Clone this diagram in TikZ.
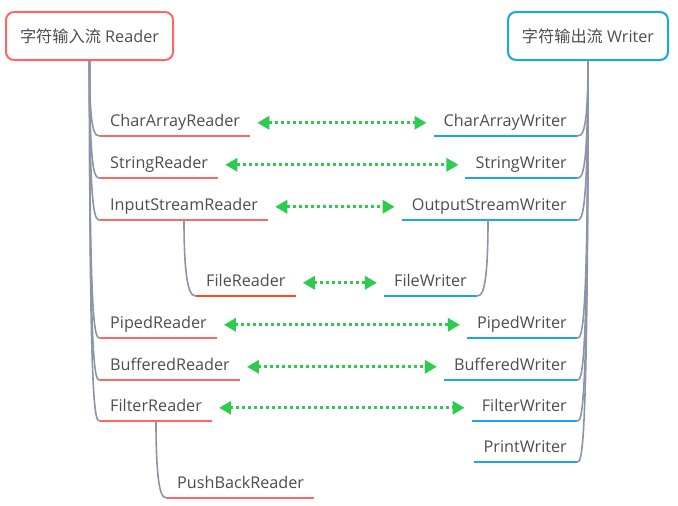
\documentclass[tikz,border=0pt]{standalone}
\usepackage{fontspec}
\setmainfont{Open Sans}
\newfontfamily\cjk{Noto Sans CJK SC}
\usetikzlibrary{arrows.meta}
\definecolor{readerred}{HTML}{FF6666}
\definecolor{fileorange}{HTML}{FF4D1A}
\definecolor{writerblue}{HTML}{1BA5EA}
\definecolor{linkgreen}{HTML}{2DCC4F}
\definecolor{branchgray}{HTML}{8A95A8}
\definecolor{textgray}{HTML}{4D4D4D}
\begin{document}
\begin{tikzpicture}[x=1pt,y=-1pt,font=\fontsize{16.2}{19}\selectfont,text=textgray,
    root/.style={draw=#1,line width=2pt,rounded corners=8pt,minimum height=48pt},
    leaf/.style={inner xsep=10pt,inner ysep=5pt,text height=12pt,text depth=4pt,
      append after command={(\tikzlastnode.south west) edge[draw=#1,line width=2pt] (\tikzlastnode.south east)}},
    branch/.style={draw=branchgray,line width=1.6pt},
    link/.style={draw=linkgreen,line width=3pt,dash pattern=on 3pt off 3pt,
      {Triangle[length=12pt,width=13pt]}-{Triangle[length=12pt,width=13pt]},
      shorten <=7pt,shorten >=7pt}]
  \useasboundingbox (0,0) rectangle (678,506);
  % the two roots
  \node[root=readerred,minimum width=167pt] (R) at (89.5,36) {{\cjk 字符输入流} Reader};
  \node[root=writerblue,minimum width=160pt] (W) at (588,36) {{\cjk 字符输出流} Writer};
  % readers
  \node[leaf=readerred,anchor=south west] (r1) at (100,136) {CharArrayReader};
  \node[leaf=readerred,anchor=south west] (r2) at (100,178) {StringReader};
  \node[leaf=readerred,anchor=south west] (r3) at (100,220) {InputStreamReader};
  \node[leaf=fileorange,anchor=south west] (r4) at (196,296) {FileReader};
  \node[leaf=readerred,anchor=south west] (r5) at (100,338) {PipedReader};
  \node[leaf=readerred,anchor=south west] (r6) at (100,380) {BufferedReader};
  \node[leaf=readerred,anchor=south west] (r7) at (100,421) {FilterReader};
  \node[leaf=readerred,anchor=south west] (r8) at (167,498) {PushBackReader};
  % writers
  \node[leaf=writerblue,anchor=south east] (w1) at (577,136) {CharArrayWriter};
  \node[leaf=writerblue,anchor=south east] (w2) at (577,178) {StringWriter};
  \node[leaf=writerblue,anchor=south east] (w3) at (577,220) {OutputStreamWriter};
  \node[leaf=writerblue,anchor=south east] (w4) at (477,296) {FileWriter};
  \node[leaf=writerblue,anchor=south east] (w5) at (577,338) {PipedWriter};
  \node[leaf=writerblue,anchor=south east] (w6) at (577,380) {BufferedWriter};
  \node[leaf=writerblue,anchor=south east] (w7) at (577,421) {FilterWriter};
  \node[leaf=writerblue,anchor=south east] (w8) at (577,462) {PrintWriter};
  % branches
  \foreach \n in {r1,r2,r3,r5,r6,r7}
    \draw[branch] (R.south) .. controls (R.south |- \n.south west) and ([xshift=-5pt]\n.south west) .. (\n.south west);
  \foreach \n in {w1,w2,w3,w5,w6,w7,w8}
    \draw[branch] (W.south) .. controls (W.south |- \n.south east) and ([xshift=5pt]\n.south east) .. (\n.south east);
  \draw[branch] ([xshift=-12pt]r4.south west |- r3.south) .. controls ([xshift=-12pt]r4.south west) and ([xshift=-4pt]r4.south west) .. (r4.south west);
  \draw[branch] ([xshift=-11pt]r8.south west |- r7.south) .. controls ([xshift=-11pt]r8.south west) and ([xshift=-4pt]r8.south west) .. (r8.south west);
  \draw[branch] ([xshift=11pt]w4.south east |- w3.south) .. controls ([xshift=11pt]w4.south east) and ([xshift=4pt]w4.south east) .. (w4.south east);
  % reader <-> writer
  \foreach \a/\b in {r1/w1,r2/w2,r3/w3,r4/w4,r5/w5,r6/w6,r7/w7}
    \draw[link] (\a.east) -- (\b.west);
\end{tikzpicture}
\end{document}
